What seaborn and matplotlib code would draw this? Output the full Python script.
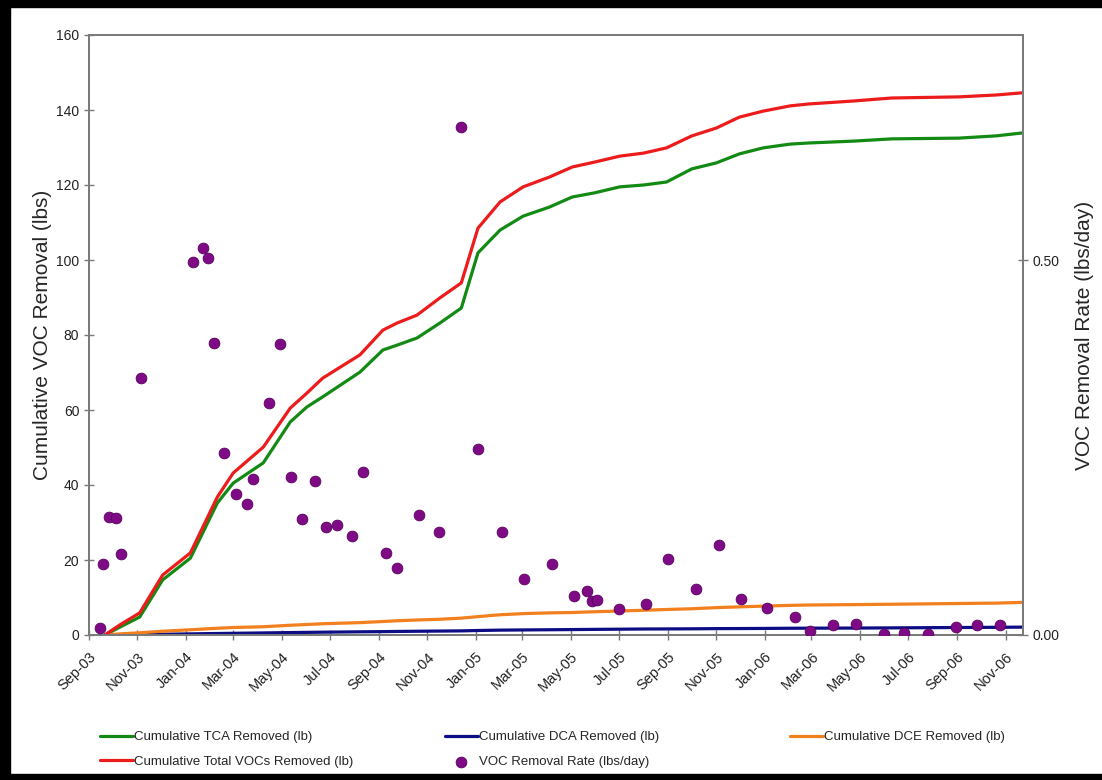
import pandas as pd
import matplotlib.pyplot as plt
import matplotlib.dates as mdates
import matplotlib.ticker as mticker
from matplotlib.patches import Rectangle
import seaborn as sns

# Probenahmetermine fuer die kumulativen Kurven
line_dates = ["2003-09-21", "2003-10-10", "2003-11-04", "2003-12-03", "2004-01-07",
              "2004-02-10", "2004-03-01", "2004-04-08", "2004-05-12", "2004-06-02",
              "2004-06-22", "2004-08-08", "2004-09-06", "2004-09-24", "2004-10-19",
              "2004-11-17", "2004-12-14", "2005-01-04", "2005-02-01", "2005-03-02",
              "2005-04-04", "2005-05-03", "2005-05-31", "2005-07-02", "2005-08-01",
              "2005-08-30", "2005-10-01", "2005-11-01", "2005-11-30", "2005-12-30",
              "2006-02-02", "2006-02-25", "2006-04-23", "2006-06-10", "2006-09-03",
              "2006-10-20", "2006-11-23"]

tca = [0, 2.1, 4.8, 14.7, 20.5, 35.2, 40.5, 45.9, 56.8, 60.8,
       63.5, 70.1, 76.0, 77.3, 79.2, 83.2, 87.2, 101.9, 108.0, 111.7,
       114.1, 116.8, 117.9, 119.5, 120.0, 120.8, 124.3, 125.9, 128.3, 129.9,
       130.9, 131.2, 131.7, 132.3, 132.5, 133.1, 133.9]

total = [0, 2.7, 5.9, 16.0, 21.9, 36.8, 43.2, 50.1, 60.5, 64.5,
         68.5, 74.7, 81.3, 83.2, 85.3, 89.9, 93.9, 108.5, 115.5, 119.5,
         122.1, 124.8, 126.1, 127.7, 128.5, 129.9, 133.1, 135.2, 138.1, 139.7,
         141.1, 141.6, 142.4, 143.2, 143.5, 144.0, 144.6]

dce = [0, 0.3, 0.6, 1.0, 1.4, 1.8, 2.0, 2.2, 2.6, 2.8,
       3.0, 3.3, 3.6, 3.8, 4.0, 4.2, 4.5, 4.9, 5.4, 5.7,
       5.9, 6.0, 6.2, 6.4, 6.6, 6.8, 7.0, 7.3, 7.5, 7.7,
       7.9, 8.0, 8.1, 8.2, 8.4, 8.5, 8.7]

dca = [0, 0.05, 0.1, 0.2, 0.3, 0.4, 0.45, 0.55, 0.65, 0.7,
       0.75, 0.85, 0.9, 0.95, 1.0, 1.05, 1.1, 1.2, 1.3, 1.35,
       1.4, 1.45, 1.5, 1.55, 1.6, 1.62, 1.65, 1.7, 1.72, 1.75,
       1.8, 1.82, 1.85, 1.9, 2.0, 2.05, 2.1]

# Abtragsrate (rechte Achse)
rate_dates = ["2003-09-15", "2003-09-19", "2003-09-26", "2003-10-05", "2003-10-11",
              "2003-11-06", "2004-01-10", "2004-01-23", "2004-01-29", "2004-02-06",
              "2004-02-18", "2004-03-05", "2004-03-18", "2004-03-26", "2004-04-15",
              "2004-04-29", "2004-05-13", "2004-05-27", "2004-06-12", "2004-06-26",
              "2004-07-10", "2004-07-29", "2004-08-12", "2004-09-10", "2004-09-24",
              "2004-10-22", "2004-11-16", "2004-12-14", "2005-01-04", "2005-02-03",
              "2005-03-03", "2005-04-08", "2005-05-05", "2005-05-22", "2005-05-28",
              "2005-06-03", "2005-07-01", "2005-08-04", "2005-09-01", "2005-10-06",
              "2005-11-04", "2005-12-02", "2006-01-04", "2006-02-08", "2006-02-27",
              "2006-03-28", "2006-04-26", "2006-06-01", "2006-06-26", "2006-07-26",
              "2006-08-31", "2006-09-26", "2006-10-25"]

rate = [0.009, 0.095, 0.157, 0.156, 0.108,
        0.343, 0.497, 0.516, 0.503, 0.389,
        0.243, 0.188, 0.175, 0.208, 0.309,
        0.388, 0.211, 0.155, 0.205, 0.144,
        0.147, 0.132, 0.217, 0.109, 0.089,
        0.160, 0.137, 0.677, 0.248, 0.137,
        0.075, 0.095, 0.052, 0.059, 0.045,
        0.047, 0.035, 0.041, 0.101, 0.061,
        0.120, 0.048, 0.036, 0.024, 0.006,
        0.014, 0.015, 0.001, 0.003, 0.001,
        0.011, 0.013, 0.013]

df = pd.DataFrame({"Datum": pd.to_datetime(line_dates), "TCA": tca, "DCA": dca,
                   "DCE": dce, "Total": total})
df_rate = pd.DataFrame({"Datum": pd.to_datetime(rate_dates), "Rate": rate})

sns.set_style("ticks")
plt.rcParams['font.family'] = ['Liberation Sans', 'DejaVu Sans']

fig = plt.figure(figsize=(11.02, 7.8), dpi=100)
ax = fig.add_axes([89 / 1102, 1 - 635 / 780, (1023 - 89) / 1102, 600 / 780])

sns.lineplot(data=df, x="Datum", y="TCA", ax=ax, color="#138a13", lw=2.3, sort=False)
sns.lineplot(data=df, x="Datum", y="DCA", ax=ax, color="#0c0c84", lw=2.3, sort=False)
sns.lineplot(data=df, x="Datum", y="DCE", ax=ax, color="#f2801f", lw=2.3, sort=False)
sns.lineplot(data=df, x="Datum", y="Total", ax=ax, color="#ec1c1c", lw=2.3, sort=False)

ax2 = ax.twinx()
sns.scatterplot(data=df_rate, x="Datum", y="Rate", ax=ax2, color="#7f0a86",
                edgecolor="#5a005f", linewidth=0.6, s=60, zorder=5)

# Achsen
ax.set_xlim(pd.Timestamp("2003-09-01"), pd.Timestamp("2006-11-23"))
ax.set_ylim(0, 160)
ax2.set_ylim(0, 0.8)
ax.yaxis.set_major_locator(mticker.MultipleLocator(20))
ax2.yaxis.set_major_locator(mticker.FixedLocator([0, 0.5]))
ax2.yaxis.set_major_formatter(mticker.FormatStrFormatter("%.2f"))
ax.xaxis.set_major_locator(mdates.MonthLocator(bymonth=[1, 3, 5, 7, 9, 11]))
ax.xaxis.set_major_formatter(mdates.DateFormatter("%b-%y"))

for lab in ax.get_xticklabels():
    lab.set_rotation(45)
    lab.set_ha("right")
    lab.set_rotation_mode("anchor")
    lab.set_fontsize(10.5)

ax.set_xlabel("")
ax.set_ylabel("Cumulative VOC Removal (lbs)", fontsize=15, labelpad=3)
ax2.set_ylabel("VOC Removal Rate (lbs/day)", fontsize=15, labelpad=11)

for a in (ax, ax2):
    a.tick_params(direction="inout", length=7, width=1, color="#7a7a7a",
                  labelsize=10, labelcolor="#222222")
    for sp in a.spines.values():
        sp.set_color("#7a7a7a")
        sp.set_linewidth(1.3)
ax.tick_params(axis="x", labelsize=10.5, pad=7)

# Legende unten, drei Spalten
legend_font = {"family": ["Liberation Sans", "DejaVu Sans"], "size": 9.5}
columns = [
    (100, [ax.lines[0], ax.lines[3]],
     ["Cumulative TCA Removed (lb)", "Cumulative Total VOCs Removed (lb)"]),
    (445, [ax.lines[1], ax2.collections[0]],
     ["Cumulative DCA Removed (lb)", "VOC Removal Rate (lbs/day)"]),
    (790, [ax.lines[2]], ["Cumulative DCE Removed (lb)"]),
]
for x0, hs, ls in columns:
    fig.legend(hs, ls, loc="upper left", bbox_to_anchor=(x0 / 1102, 1 - 731 / 780),
               frameon=False, prop=legend_font, handlelength=2.5,
               handletextpad=0.05, labelspacing=0.95, borderpad=0, borderaxespad=0)

# schwarzer Rahmen
fig.add_artist(Rectangle((0, 1 - 7 / 780), 1, 7 / 780, transform=fig.transFigure, color="black"))
fig.add_artist(Rectangle((0, 0), 10 / 1102, 1, transform=fig.transFigure, color="black"))
fig.add_artist(Rectangle((0, 0), 1, 6 / 780, transform=fig.transFigure, color="black"))

fig.savefig("out.png", dpi=100)
